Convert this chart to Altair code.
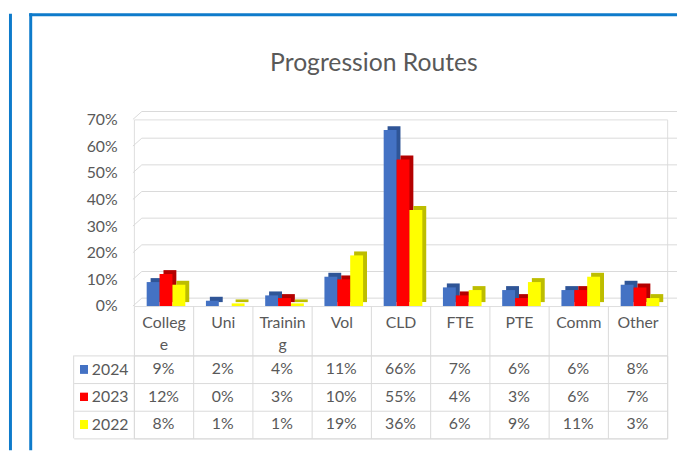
import altair as alt
import pandas as pd

categories = ["College", "Uni", "Training", "Vol", "CLD", "FTE", "PTE", "Comm", "Other"]
series = ["2024", "2023", "2022"]
values_2024 = [9, 2, 4, 11, 66, 7, 6, 6, 8]
values_2023 = [12, 0, 3, 10, 55, 4, 3, 6, 7]
values_2022 = [8, 1, 1, 19, 36, 6, 9, 11, 3]
grid_ticks = [0, 10, 20, 30, 40, 50, 60, 70]
title_text = "Progression Routes"

front_colors = ["#4472C4", "#FF0000", "#FFFF00"]
side_colors = ["#2F5597", "#B40000", "#BDBD00"]

rows = []
for s, vals in zip(series, [values_2024, values_2023, values_2022]):
    for c, v in zip(categories, vals):
        rows.append({"category": c, "series": s, "value": v / 100})
df = pd.DataFrame(rows)
grid_df = pd.DataFrame({"tick": [t / 100 for t in grid_ticks]})
one = pd.DataFrame({"a": [0]})

FONT = "Lato"
FS = 16
GRAY = "#595959"
LINE = "#d9d9d9"
FRAME = "#0E7BCB"
W, H, TH = 540, 189, 84

x_scale = alt.Scale(domain=categories, paddingInner=0, paddingOuter=0)
y_scale = alt.Scale(domain=[0, 0.7], nice=False, zero=True)
off_scale = alt.Scale(domain=series, paddingInner=0, paddingOuter=0.8, align=0.62)
depth_off_scale = alt.Scale(domain=series, paddingInner=0, paddingOuter=0.8, align=0.81)
front_scale = alt.Scale(domain=series, range=front_colors)
side_scale = alt.Scale(domain=series, range=side_colors)

label_expr = ("datum.value == 'College' ? ['Colleg','e'] : "
              "datum.value == 'Training' ? ['Trainin','g'] : datum.value")

y_axis = alt.Axis(title=None, format=".0%", values=[t / 100 for t in grid_ticks],
                  grid=False, domain=False, ticks=False, labelPadding=17, labelOverlap=False,
                  labelFont=FONT, labelFontSize=FS, labelColor=GRAY)
x_axis = alt.Axis(title=None, domain=False, tickBand="extent", tickSize=50,
                  tickColor=LINE, labelPadding=-41, labelExpr=label_expr,
                  labelFont=FONT, labelFontSize=FS, labelColor=GRAY,
                  labelLineHeight=22, labelAngle=0, grid=False)

grid = alt.Chart(grid_df).mark_rule(color=LINE, strokeWidth=1, yOffset=-8).encode(
    y=alt.Y("tick:Q", scale=y_scale, axis=y_axis),
    x=alt.value(8), x2=alt.value(550),
)
slant = alt.Chart(grid_df).mark_rule(color=LINE, strokeWidth=1, y2Offset=-8).encode(
    y=alt.Y("tick:Q", scale=y_scale, axis=y_axis),
    y2=alt.Y2("tick:Q"),
    x=alt.value(-1), x2=alt.value(8),
)

depth = alt.Chart(df).mark_bar(yOffset=-4, y2Offset=0).encode(
    x=alt.X("category:N", scale=x_scale, sort=categories, axis=x_axis),
    xOffset=alt.XOffset("series:N", scale=depth_off_scale, sort=series),
    y=alt.Y("value:Q", scale=y_scale, axis=y_axis),
    color=alt.Color("series:N", scale=side_scale, legend=None),
)
front = alt.Chart(df).mark_bar().encode(
    x=alt.X("category:N", scale=x_scale, sort=categories, axis=x_axis),
    xOffset=alt.XOffset("series:N", scale=off_scale, sort=series),
    y=alt.Y("value:Q", scale=y_scale, axis=y_axis),
    color=alt.Color("series:N", scale=front_scale, legend=None),
)

frame_top = alt.Chart(one).mark_rule(color=FRAME, strokeWidth=3).encode(
    x=alt.value(-106), x2=alt.value(550), y=alt.value(-106))
frame_left = alt.Chart(one).mark_rule(color=FRAME, strokeWidth=3).encode(
    x=alt.value(-104.5), y=alt.value(-107.5), y2=alt.value(335))
outer_left = alt.Chart(one).mark_rule(color=FRAME, strokeWidth=3).encode(
    x=alt.value(-125), y=alt.value(-107), y2=alt.value(335))
title = alt.Chart(one).mark_text(font=FONT, fontSize=25, color=GRAY).encode(
    x=alt.value(243), y=alt.value(-57), text=alt.value(title_text))

top = alt.layer(grid, slant, depth, front, frame_top, frame_left, outer_left, title).resolve_scale(
    color="independent", xOffset="independent").properties(width=W, height=H)

cells = alt.Chart(df).mark_text(font=FONT, fontSize=FS, color=GRAY).encode(
    x=alt.X("category:N", scale=x_scale, sort=categories,
            axis=alt.Axis(title=None, labels=False, ticks=False, domain=False, grid=True,
                          tickBand="extent", gridColor=LINE)),
    y=alt.Y("series:N", sort=series,
            axis=alt.Axis(title=None, tickBand="extent", tickSize=61, tickColor=LINE,
                          domain=False, grid=True, gridColor=LINE, labelPadding=-55,
                          labelFont=FONT, labelFontSize=FS, labelColor=GRAY)),
    text=alt.Text("value:Q", format=".0%"),
)
squares = alt.Chart(df).mark_point(shape="square", filled=True, size=64, opacity=1).encode(
    x=alt.value(-50.5),
    y=alt.Y("series:N", sort=series),
    color=alt.Color("series:N", scale=front_scale, legend=None),
)
left_border = alt.Chart(one).mark_rule(color=LINE).encode(
    x=alt.value(-61), y=alt.value(0), y2=alt.value(TH))

table = alt.layer(cells, squares, left_border).properties(width=W, height=TH)

chart = alt.vconcat(top, table, spacing=50, bounds="flush").resolve_scale(
    color="independent", x="independent", y="independent"
).resolve_axis(x="independent", y="independent").properties(
    padding={"left": 0.5, "top": 0, "right": 0, "bottom": 0}
).configure_view(strokeWidth=0).configure(background="white")

chart.save("out.html", embed_options={"renderer": "svg", "actions": False})
